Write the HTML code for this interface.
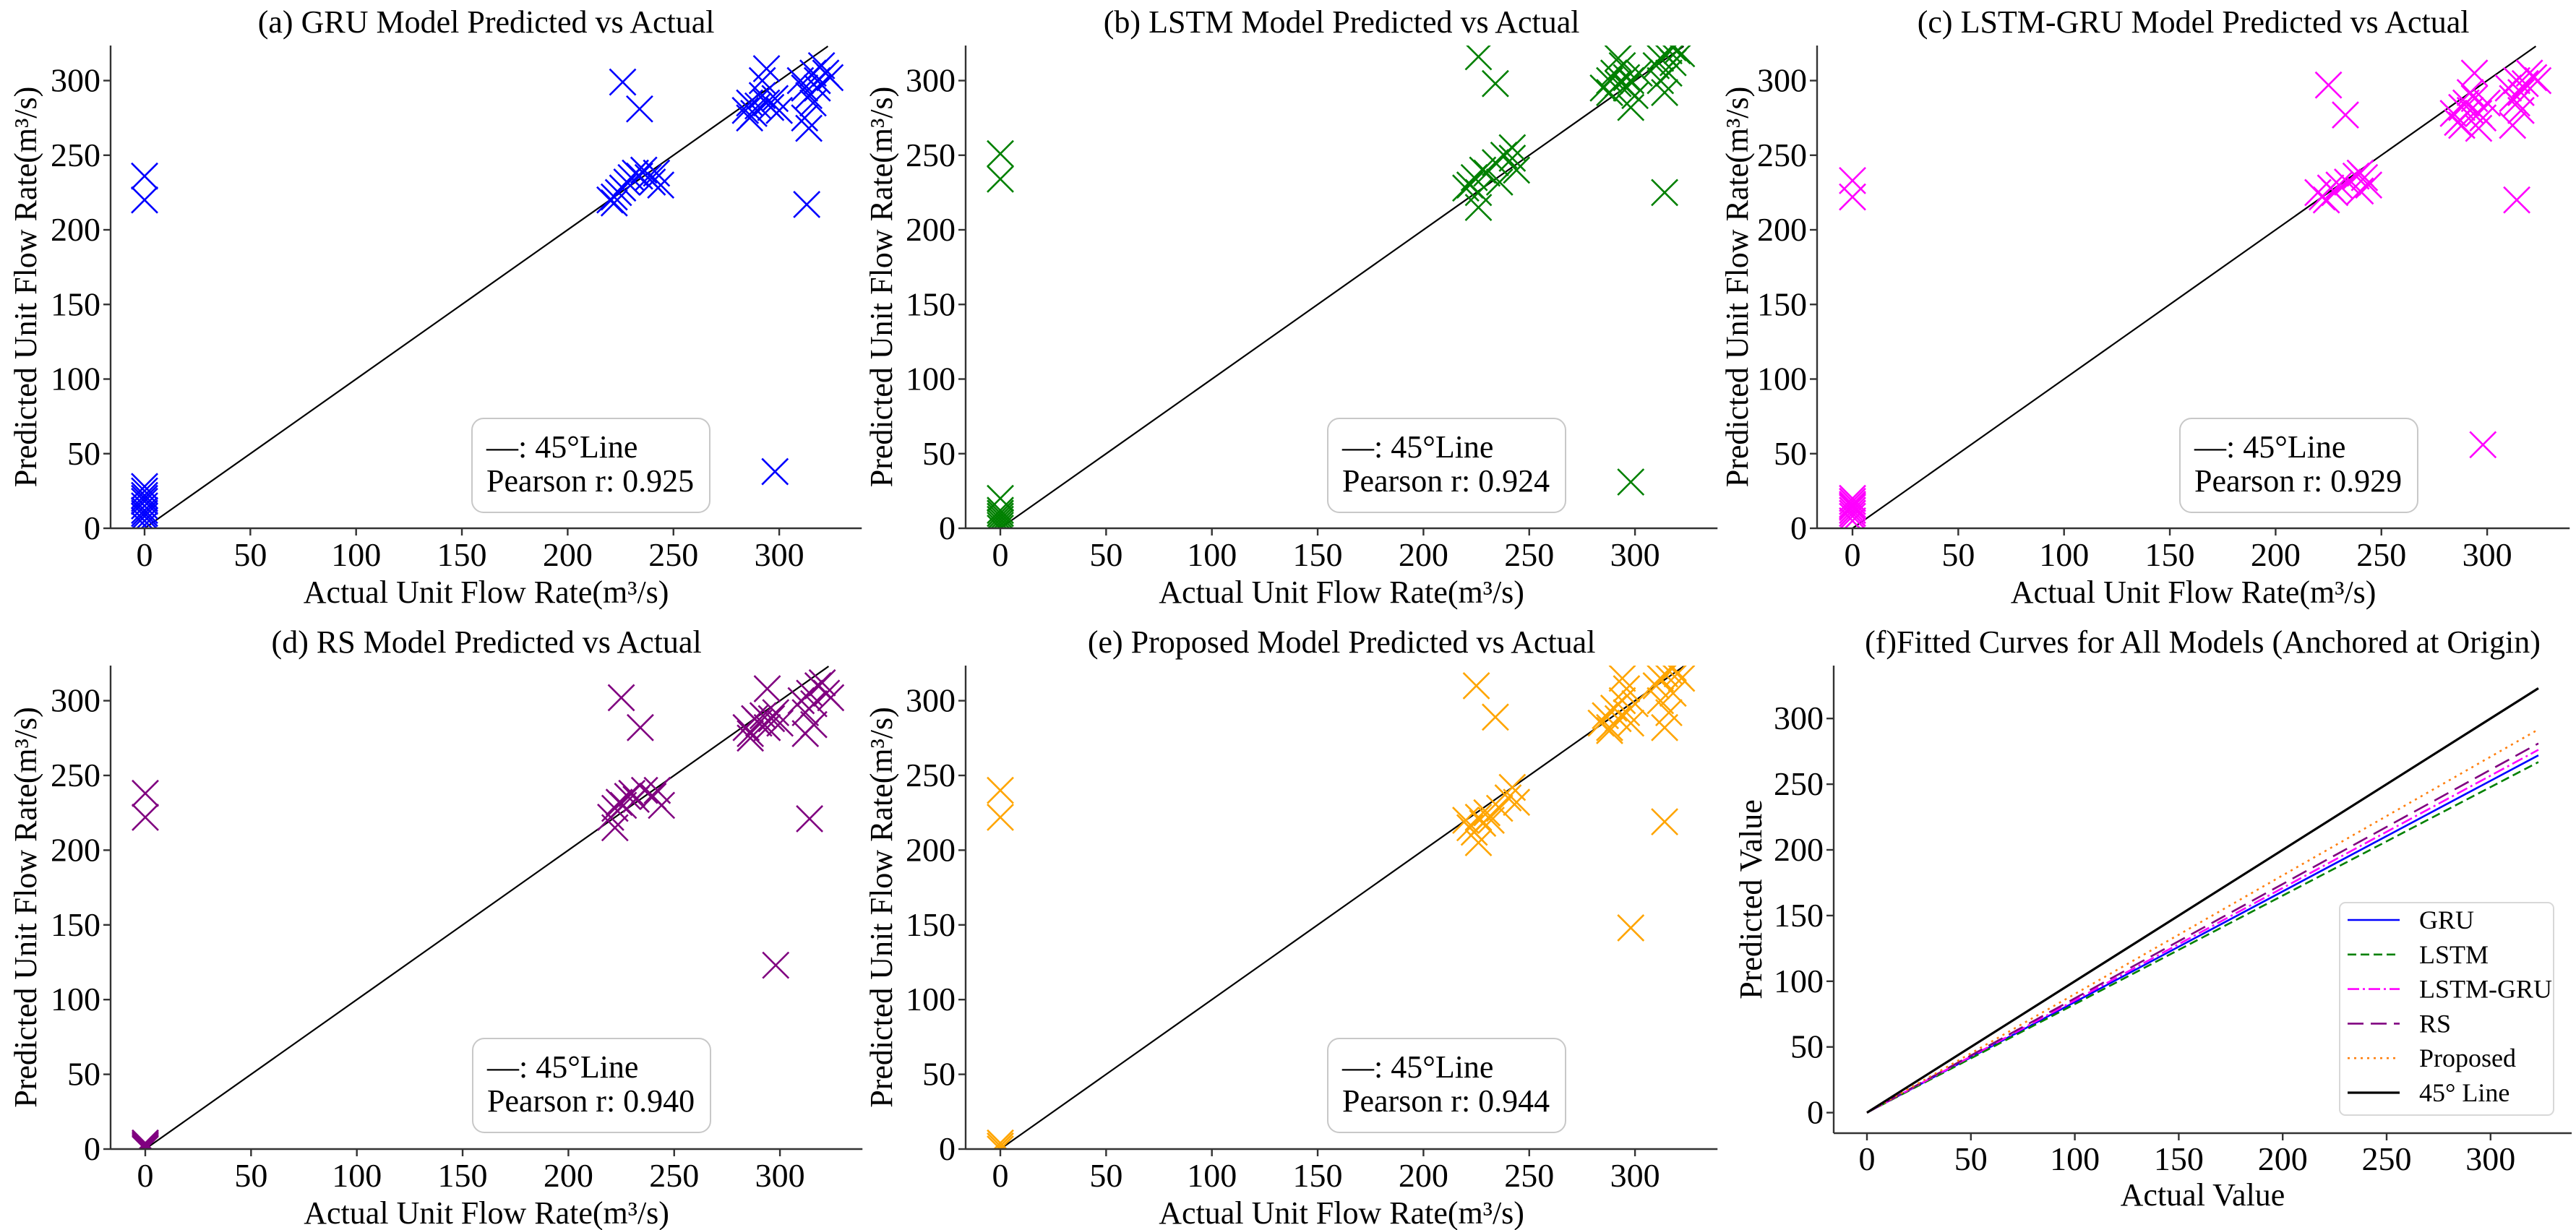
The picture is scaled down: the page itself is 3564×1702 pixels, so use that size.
<!DOCTYPE html>
<html><head><meta charset="utf-8">
<style>
html,body{margin:0;padding:0;background:#fff;}
svg{display:block;font-family:"Liberation Serif",serif;}
svg text{font-family:"Liberation Serif",serif;}
</style></head>
<body>
<svg id="fig" width="3564" height="1702" viewBox="0 0 3564 1702" xmlns="http://www.w3.org/2000/svg" font-family="Liberation Serif, serif"></svg>
<script>
// ---- data ----
const gruActual = [0,0,0,0,0,0,0,0,0,0,0,0,0,226,234,313,298,220,222,224,226,228,230,232,234,236,238,240,242,244,222,284,286,288,290,292,294,296,298,300,286,294,292,310,312,314,316,318,320,322,324,312,314,316,318];
const gruPred   = [2,5,8,10,12,15,18,20,22,25,28,220,236,299,281,217,38,220,222,225,228,232,235,238,236,240,235,232,238,230,218,280,285,278,283,290,285,282,288,280,275,308,300,300,295,290,305,300,310,305,302,275,268,285,295];
const lstmActual = [0,0,0,0,0,0,0,0,0,0,226,234,314,298,222,224,226,226,228,230,234,236,238,242,244,242,220,285,288,290,292,294,296,298,300,298,292,296,288,302,310,312,314,316,318,320,322,314,312,316,318];
const lstmPred   = [0,2,4,6,8,10,12,20,234,251,316,298,225,31,230,235,225,215,240,238,245,232,250,255,240,248,228,295,300,305,298,310,302,300,290,282,315,295,292,305,310,315,318,320,322,320,318,292,300,305,312];
const lgActual = [0,0,0,0,0,0,0,0,0,0,0,225,233,314,298,220,222,224,226,228,230,234,238,240,242,244,240,284,286,288,290,292,294,296,298,300,294,296,288,292,310,312,314,316,318,320,322,324,312,316,314];
const lgPred   = [5,8,10,12,14,15,16,18,20,222,233,297,277,220,56,225,222,220,228,225,230,232,236,238,235,230,226,278,272,282,285,280,288,278,275,285,305,268,270,292,295,288,300,292,298,305,302,300,270,280,285];
const rsActual = [0,0,0,0,0,0,0,225,234,314,298,220,222,224,226,228,230,232,236,240,242,244,222,284,286,288,290,292,294,296,298,300,294,286,310,312,314,316,318,320,322,324,312,316];
const rsPred   = [0,1,2,3,4,222,238,302,282,221,123,222,228,232,230,236,238,234,240,236,240,230,215,282,278,288,285,290,282,288,292,285,308,275,300,292,305,298,310,312,305,302,278,284];
const propActual = [0,0,0,0,0,225,234,314,298,220,222,224,226,226,228,230,232,236,240,242,244,284,286,288,290,292,294,296,298,300,294,296,288,310,312,314,316,318,320,322,314,316,318,312];
const propPred   = [0,2,4,222,240,310,289,219,148,220,215,212,222,205,218,225,220,228,235,242,232,285,290,280,295,288,300,292,285,298,315,308,282,310,315,318,320,322,318,315,282,292,305,300];
const pearson = ["0.925","0.924","0.929","0.940","0.944"];
const fitNames  = ["GRU","LSTM","LSTM-GRU","RS","Proposed","45° Line"];
const fitSlopes = [0.842,0.826,0.855,0.870,0.903,1.0];
const fitXMax = 323;
const ticks = [0,50,100,150,200,250,300];

const NS="http://www.w3.org/2000/svg";
const svg=document.getElementById('fig');
function mk(tag,attrs,parent){const e=document.createElementNS(NS,tag);for(const k in attrs)e.setAttribute(k,attrs[k]);(parent||svg).appendChild(e);return e;}

const panels=[
 {key:'gru',title:'(a) GRU Model Predicted vs Actual',color:'#0000ff',ax:gruActual,pr:gruPred,r:pearson[0],x0:200,spine:153,y0:731,top:63,ylab:35},
 {key:'lstm',title:'(b) LSTM Model Predicted vs Actual',color:'#008000',ax:lstmActual,pr:lstmPred,r:pearson[1],x0:1384,spine:1336,y0:731,top:63,ylab:1219},
 {key:'lstm-gru',title:'(c) LSTM-GRU Model Predicted vs Actual',color:'#ff00ff',ax:lgActual,pr:lgPred,r:pearson[2],x0:2563,spine:2514,y0:731,top:63,ylab:2403},
 {key:'rs',title:'(d) RS Model Predicted vs Actual',color:'#800080',ax:rsActual,pr:rsPred,r:pearson[3],x0:201,spine:153,y0:1590,top:921,ylab:35},
 {key:'proposed',title:'(e) Proposed Model Predicted vs Actual',color:'#ffa500',ax:propActual,pr:propPred,r:pearson[4],x0:1384,spine:1336,y0:1590,top:921,ylab:1219}
];
const XS=2.927;
panels.forEach((p,i)=>{
  const g=mk('g',{});
  
  
  const ys=(p.y0-p.top)/323.5;
  const X=v=>p.x0+v*XS, Y=v=>p.y0-v*ys;
  const right=X(339);
  const cp=mk('clipPath',{id:'cp'+i},g);
  mk('rect',{x:p.spine,y:p.top,width:right-p.spine,height:p.y0-p.top},cp);
  const t=mk('text',{x:(p.spine+right)/2,y:p.top-18,'text-anchor':'middle','font-size':44},g);
  t.textContent=p.title;
  
  
  const l=mk('line',{x1:X(0),y1:Y(0),x2:X(323),y2:Y(323),stroke:'#000','stroke-width':2.2,'clip-path':'url(#cp'+i+')'},g);
  
  
  const pg=mk('g',{'clip-path':'url(#cp'+i+')',stroke:p.color,'stroke-width':2.6,fill:'none'},g);
  
  
  const h=18;
  p.ax.forEach((a,j)=>{
    const cx=X(a),cy=Y(p.pr[j]);
    const m=mk('path',{d:`M${cx-h},${cy-h}L${cx+h},${cy+h}M${cx-h},${cy+h}L${cx+h},${cy-h}`},pg);
    
    
  });
  mk('line',{x1:p.spine,y1:p.top,x2:p.spine,y2:p.y0,stroke:'#333','stroke-width':2.4},g);
  mk('line',{x1:p.spine,y1:p.y0,x2:right,y2:p.y0,stroke:'#333','stroke-width':2.4},g);
  ticks.forEach(v=>{
    mk('line',{x1:X(v),y1:p.y0,x2:X(v),y2:p.y0+10,stroke:'#333','stroke-width':2.4},g);
    const tx=mk('text',{x:X(v),y:p.y0+52,'text-anchor':'middle','font-size':46},g);
    tx.textContent=v;
    
    
    mk('line',{x1:p.spine-10,y1:Y(v),x2:p.spine,y2:Y(v),stroke:'#333','stroke-width':2.4},g);
    const ty=mk('text',{x:p.spine-14,y:Y(v)+15,'text-anchor':'end','font-size':46},g);
    ty.textContent=v;
    
    
  });
  const xl=mk('text',{x:(p.spine+right)/2,y:p.y0+103,'text-anchor':'middle','font-size':44},g);
  xl.textContent='Actual Unit Flow Rate(m³/s)';
  
  
  const yc=(p.top+p.y0)/2;
  const yl=mk('text',{x:p.ylab,y:yc,'text-anchor':'middle','font-size':44,transform:`rotate(-90 ${p.ylab} ${yc}) translate(0 15)`},g);
  yl.textContent='Predicted Unit Flow Rate(m³/s)';
  
  
  const bx=p.x0+453, by=p.top+516;
  const bg=mk('g',{},g);
  
  
  mk('rect',{x:bx,y:by,width:329,height:130,rx:16,fill:'#fff',stroke:'#c8c8c8','stroke-width':2},bg);
  const a1=mk('text',{x:bx+20,y:by+54,'font-size':44},bg);
  a1.textContent='—: 45°Line';
  const a2=mk('text',{x:bx+20,y:by+101,'font-size':44},bg);
  a2.textContent='Pearson r: '+p.r;
});

(function(){
  const g=mk('g',{});
  
  
  const x0=2583, xs=2.876, y0=1539.6, ys=1.818, spine=2537, bottom=1568, top=921, right=3558;
  const X=v=>x0+v*xs, Y=v=>y0-v*ys;
  const t=mk('text',{x:(spine+right)/2,y:top-18,'text-anchor':'middle','font-size':44},g);
  t.textContent='(f)Fitted Curves for All Models (Anchored at Origin)';
  
  
  const colors=['#0000ff','#008000','#ff00ff','#800080','#ff7f0e','#000000'];
  const dashes=['','12,6','16,5,3,5','22,10','3,6',''];
  const widths=[2.6,2.6,2.6,2.6,2.6,3.2];
  fitSlopes.forEach((s,i)=>{
    const l=mk('line',{x1:X(0),y1:Y(0),x2:X(fitXMax),y2:Y(fitXMax*s),stroke:colors[i],'stroke-width':widths[i],'stroke-dasharray':dashes[i]},g);
    
    
  });
  mk('line',{x1:spine,y1:top,x2:spine,y2:bottom,stroke:'#333','stroke-width':2.4},g);
  mk('line',{x1:spine,y1:bottom,x2:right,y2:bottom,stroke:'#333','stroke-width':2.4},g);
  ticks.forEach(v=>{
    mk('line',{x1:X(v),y1:bottom,x2:X(v),y2:bottom+10,stroke:'#333','stroke-width':2.4},g);
    const tx=mk('text',{x:X(v),y:bottom+51,'text-anchor':'middle','font-size':46},g);
    tx.textContent=v;
    
    
    mk('line',{x1:spine-10,y1:Y(v),x2:spine,y2:Y(v),stroke:'#333','stroke-width':2.4},g);
    const ty=mk('text',{x:spine-14,y:Y(v)+15,'text-anchor':'end','font-size':46},g);
    ty.textContent=v;
    
    
  });
  const xl=mk('text',{x:(spine+right)/2,y:1668,'text-anchor':'middle','font-size':44},g);
  xl.textContent='Actual Value';
  
  
  const yc=(top+bottom)/2, yx=2422;
  const yl=mk('text',{x:yx,y:yc,'text-anchor':'middle','font-size':44,transform:`rotate(-90 ${yx} ${yc}) translate(0 15)`},g);
  yl.textContent='Predicted Value';
  
  
  const lg=mk('g',{},g);
  
  
  mk('rect',{x:3237,y:1249,width:296,height:294,rx:8,fill:'#fff','fill-opacity':0.85,stroke:'#d8d8d8','stroke-width':2},lg);
  fitNames.forEach((n,i)=>{
    const cy=1273+i*47.8;
    const e=mk('g',{},lg);
    
    
    mk('line',{x1:3248,y1:cy,x2:3320,y2:cy,stroke:colors[i],'stroke-width':widths[i],'stroke-dasharray':dashes[i]},e);
    const tx=mk('text',{x:3347,y:cy+12,'font-size':36},e);
    tx.textContent=n;
  });
})();
</script>
</body></html>
